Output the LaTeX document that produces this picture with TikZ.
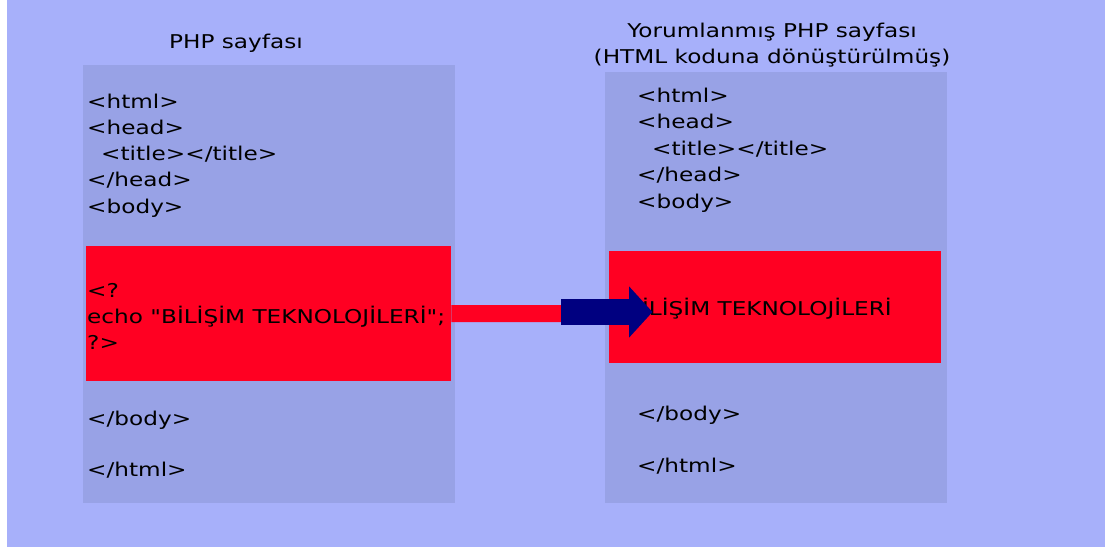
\documentclass[tikz,border=0pt]{standalone}
\usepackage{fontspec}
\usepackage{tikz}
\usetikzlibrary{arrows.meta}
\newfontfamily\pagefont[FakeStretch=1.22]{DejaVu Sans}
\definecolor{bgblue}{RGB}{167,176,250}
\definecolor{boxblue}{RGB}{152,162,230}
\definecolor{phpred}{RGB}{255,0,34}
\definecolor{arrownavy}{RGB}{0,0,128}

\begin{document}
\begin{tikzpicture}[x=1pt,y=-1pt,
    code/.style={anchor=base west,inner sep=0pt,font=\pagefont\fontsize{19}{26}\selectfont},
    caption/.style={code,anchor=base},
    pagebox/.style={fill=boxblue,anchor=north west,inner sep=0pt},
    redbox/.style={fill=phpred,anchor=north west,inner sep=0pt}]
    \useasboundingbox (0,0) rectangle (1105,547);
    \fill [bgblue] (7,0) rectangle (1105,547);
    % the two pages
    \node [pagebox,minimum width=372pt,minimum height=438pt] (phppage) at (83,65) {};
    \node [redbox,minimum width=365pt,minimum height=135pt] (phpcode) at (86,246) {};
    \node [pagebox,minimum width=342pt,minimum height=431pt] (outpage) at (605,72) {};
    \node [redbox,minimum width=332pt,minimum height=112pt] (outcode) at (609,251) {};
    % captions
    \node [caption] (phptitle) at (236,48) {PHP sayfası};
    \node [caption] (outtitle) at (772,37) {Yorumlanmış PHP sayfası};
    \node [caption] (outsub) at (772,63) {(HTML koduna dönüştürülmüş)};
    % left page
    \foreach \ln [count=\i] in {<html>,<head>,{\hspace{14pt}<title></title>},</head>,<body>}
        \node [code] (php\i) at (87,{108+26.3*(\i-1)}) {\ln};
    \foreach \ln [count=\i] in {<?,{echo "BİLİŞİM TEKNOLOJİLERİ";},?>}
        \node [code] (echo\i) at (87,{297+26*(\i-1)}) {\ln};
    \node [code] (phpbodyend) at (87,425) {</body>};
    \node [code] (phphtmlend) at (87,476) {</html>};
    % right page
    \foreach \ln [count=\i] in {<html>,<head>,{\hspace{15pt}<title></title>},</head>,<body>}
        \node [code] (out\i) at (637,{102+26.5*(\i-1)}) {\ln};
    \node [code] (result) at (626,315) {BİLİŞİM TEKNOLOJİLERİ};
    \node [code] (outbodyend) at (637,420) {</body>};
    \node [code] (outhtmlend) at (637,472) {</html>};
    % connector
    \coordinate (barend) at (562,313.5);
    \coordinate (tip) at (652.5,312);
    \draw [phpred,line width=17pt] (phpcode.east) -- (barend);
    \draw [arrownavy,line width=26pt,-{Triangle[length=23.5pt,width=50pt]}] (561,312) -- (tip);
\end{tikzpicture}
\end{document}
